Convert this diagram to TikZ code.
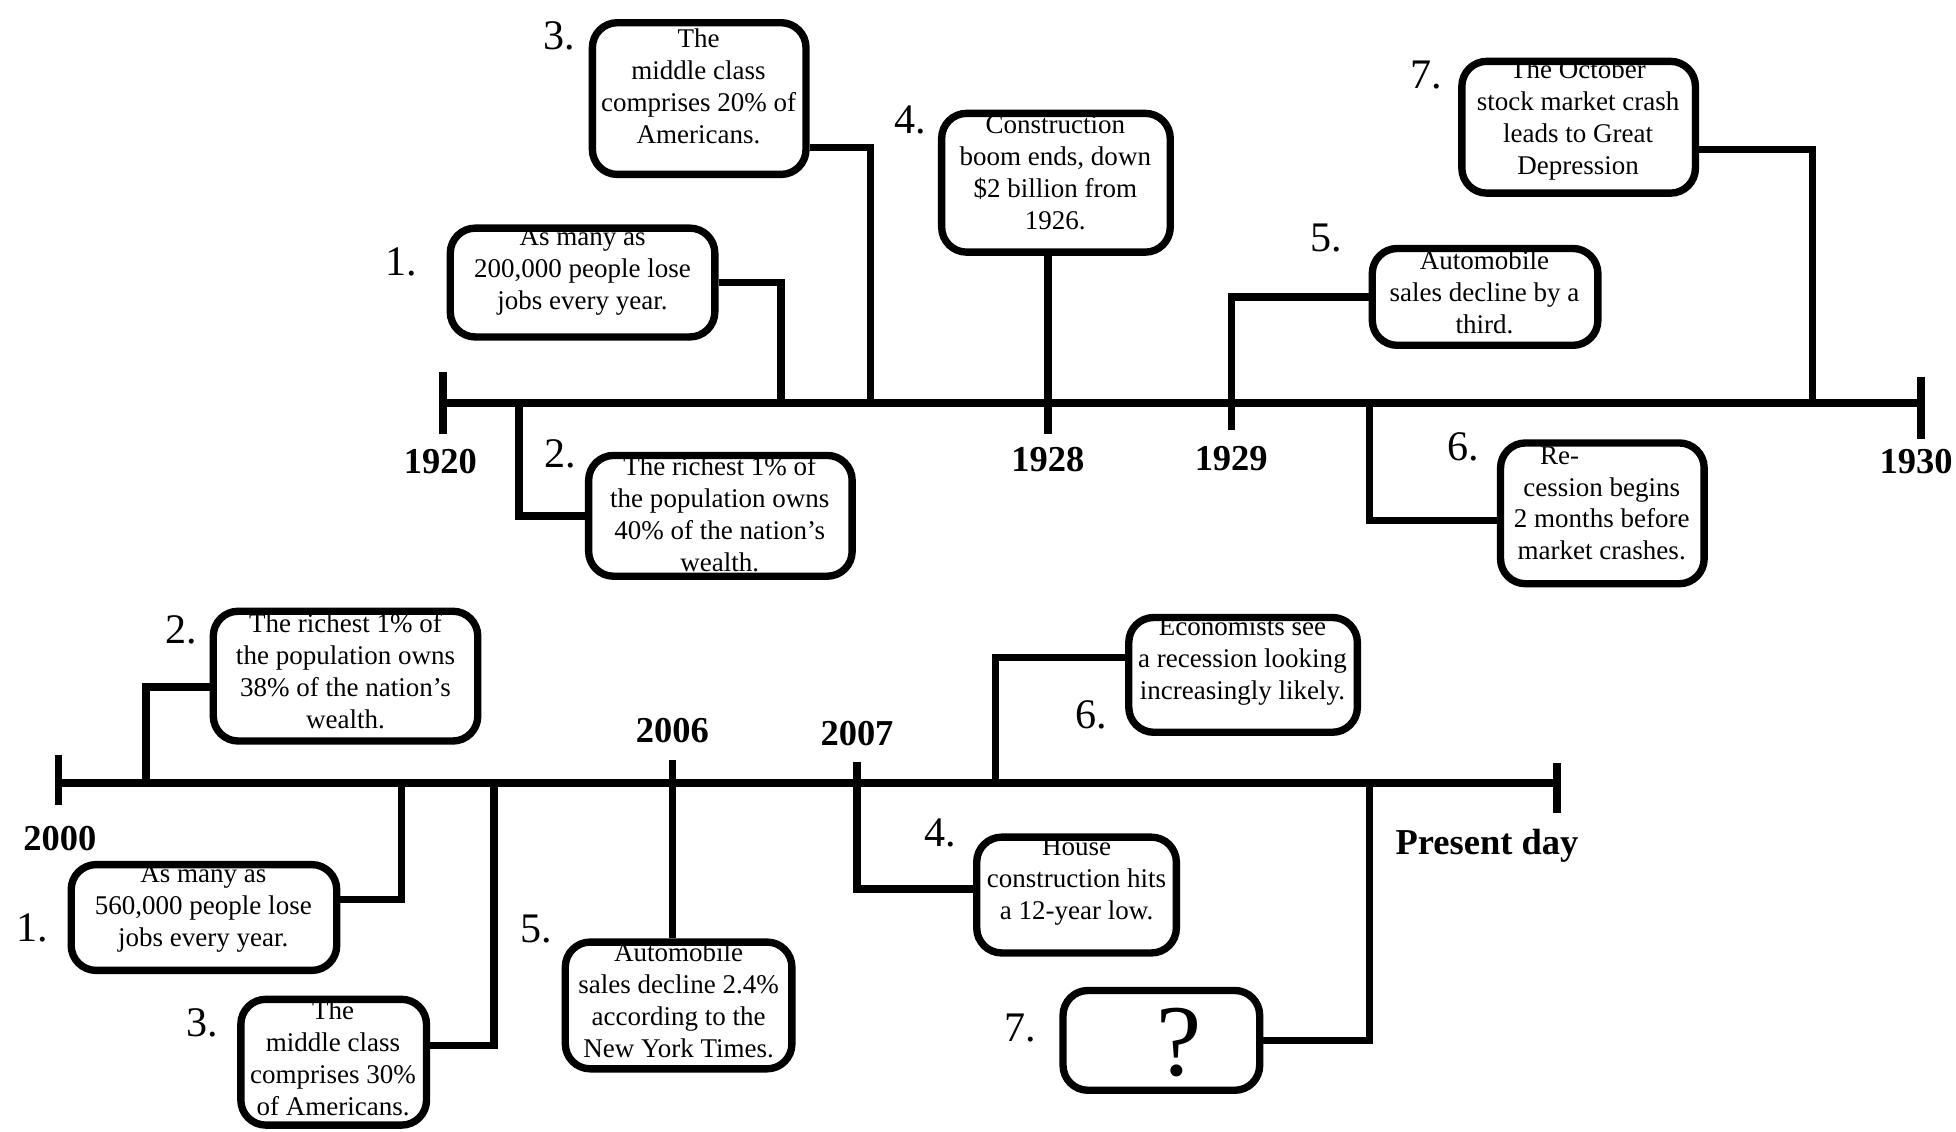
\documentclass[tikz,border=0pt]{standalone}
\usepackage{fontspec}
\setmainfont{Liberation Serif}
\usetikzlibrary{positioning}

\begin{document}
\begin{tikzpicture}[x=0.0125cm, y=-0.0125cm]
    % Define styles
    \tikzstyle{event} = [rectangle, draw, line width=2.1pt, rounded corners=0.25cm, inner sep=0pt]
    \tikzstyle{eventtext} = [align=center, inner sep=0pt, font=\fontsize{7.7}{9.1}\selectfont]
    \tikzstyle{yearlabel} = [inner sep=0pt, font=\fontsize{10.4}{12}\selectfont\bfseries]
    \tikzstyle{number} = [inner sep=0pt, font=\fontsize{12}{14}\selectfont]
    \tikzstyle{timeline} = [draw, line width=2.3pt]
    \tikzstyle{yeartick} = [draw, line width=2.2pt]
    \tikzstyle{line} = [draw, line width=2.1pt]

    \useasboundingbox (0,0) rectangle (1568,907);

    % Top timeline (1920 - 1930)
    \coordinate (start1920) at (355,323);
    \coordinate (end1930) at (1540,323);
    \coordinate (tick1928) at (840,348);
    \coordinate (tick1929) at (987,345);
    \coordinate (e1) at (626,323);
    \coordinate (e2) at (416,323);
    \coordinate (e3) at (698,323);
    \coordinate (e6) at (1098,323);
    \coordinate (e7) at (1453,323);

    \node [yearlabel] (y1920) at (353,370) {1920};
    \node [yearlabel] (y1928) at (840,368) {1928};
    \node [yearlabel] (y1929) at (987,368) {1929};
    \node [yearlabel] (y1930) at (1536,370) {1930};

    \node [event, minimum width=2.65cm, minimum height=1.09cm] (t1) at (467,226.5) {};
    \node [eventtext] (t1text) at (467,217.5) {As many as\\200,000 people lose\\jobs every year.};
    \node [event, minimum width=2.64cm, minimum height=1.21cm] (t2) at (577.5,413.5) {};
    \node [eventtext] (t2text) at (577,412) {The richest 1\% of\\the population owns\\40\% of the nation’s\\wealth.};
    \node [event, minimum width=2.14cm, minimum height=1.52cm] (t3) at (560.5,79) {};
    \node [eventtext] (t3text) at (560,69) {The\\middle class\\comprises 20\% of\\Americans.};
    \node [event, minimum width=2.29cm, minimum height=1.39cm] (t4) at (846.5,146.5) {};
    \node [eventtext] (t4text) at (846,138.5) {Construction\\boom ends, down\\\$2 billion from\\1926.};
    \node [event, minimum width=2.26cm, minimum height=0.97cm] (t5) at (1190.5,238) {};
    \node [eventtext] (t5text) at (1190,234) {Automobile\\sales decline by a\\third.};
    \node [event, minimum width=2.04cm, minimum height=1.41cm] (t6) at (1284.5,411.5) {};
    \node [eventtext] (t6text) at (1284,403.5) {Re-\hspace*{24pt}\\cession begins\\2 months before\\market crashes.};
    \node [event, minimum width=2.34cm, minimum height=1.32cm] (t7) at (1265.5,102) {};
    \node [eventtext] (t7text) at (1265,96.5) {The October\\stock market crash\\leads to Great\\Depression};

    \node [number] (n1top) at (322,210) {1.};
    \node [number] (n2top) at (449,364) {2.};
    \node [number] (n3top) at (448,29) {3.};
    \node [number] (n4top) at (730,96) {4.};
    \node [number] (n5top) at (1063,191) {5.};
    \node [number] (n6top) at (1173,358) {6.};
    \node [number] (n7top) at (1143,60) {7.};

    \path [timeline] (start1920) -- (end1930);
    \path [yeartick] (start1920) ++(0,-25) -- ++(0,50);
    \path [yeartick] (end1930) ++(0,-21) -- ++(0,50);
    \path [line] (t1.east) -| (e1);
    \path [line] (e2) |- (t2.west);
    \path [line] ([yshift=-0.49cm]t3.east) -| (e3);
    \path [line] (t4.south -| tick1928) -- (tick1928);
    \path [line] (t5.west) -| (tick1929);
    \path [line] (e6) |- ([yshift=-0.07cm]t6.west);
    \path [line] ([yshift=-0.225cm]t7.east) -| (e7);

    % Bottom timeline (2000 - present day)
    \coordinate (start2000) at (47,628);
    \coordinate (endPresent) at (1248,628);
    \coordinate (tick2006) at (539,609);
    \coordinate (tick2007) at (687,611);
    \coordinate (f1) at (322,628);
    \coordinate (f2) at (117,628);
    \coordinate (f3) at (396,628);
    \coordinate (f6) at (798,628);
    \coordinate (f7) at (1098,628);

    \node [yearlabel] (y2000) at (48,672) {2000};
    \node [yearlabel] (y2006) at (539,586) {2006};
    \node [yearlabel] (y2007) at (687,588) {2007};
    \node [yearlabel] (ypresent) at (1192,678) {Present day};

    \node [event, minimum width=2.66cm, minimum height=1.06cm] (b1) at (163.5,735.5) {};
    \node [eventtext] (b1text) at (163,728.5) {As many as\\560,000 people lose\\jobs every year.};
    \node [event, minimum width=2.65cm, minimum height=1.30cm] (b2) at (277,542) {};
    \node [eventtext] (b2text) at (277,538) {The richest 1\% of\\the population owns\\38\% of the nation’s\\wealth.};
    \node [event, minimum width=1.86cm, minimum height=1.26cm] (b3) at (267.5,851.5) {};
    \node [eventtext] (b3text) at (267,848.5) {The\\middle class\\comprises 30\%\\of Americans.};
    \node [event, minimum width=2.00cm, minimum height=1.16cm] (b4) at (863,717.5) {};
    \node [eventtext] (b4text) at (863,706.5) {House\\construction hits\\a 12-year low.};
    \node [event, minimum width=2.27cm, minimum height=1.27cm] (b5) at (544,806) {};
    \node [eventtext] (b5text) at (544,802) {Automobile\\sales decline 2.4\%\\according to the\\New York Times.};
    \node [event, minimum width=2.29cm, minimum height=1.15cm] (b6) at (996.5,541) {};
    \node [eventtext] (b6text) at (996,530.5) {Economists see\\a recession looking\\increasingly likely.};
    \node [event, minimum width=1.97cm, minimum height=1.00cm] (b7) at (931,834) {};
    \node [inner sep=0pt, font=\fontsize{29}{32}\selectfont] (b7text) at (945,836) {?};

    \node [number] (n1bot) at (26,744) {1.};
    \node [number] (n2bot) at (145,505) {2.};
    \node [number] (n3bot) at (162,820) {3.};
    \node [number] (n4bot) at (754,668) {4.};
    \node [number] (n5bot) at (430,745) {5.};
    \node [number] (n6bot) at (875,573) {6.};
    \node [number] (n7bot) at (818,824) {7.};

    \path [timeline] (start2000) -- (endPresent);
    \path [yeartick] (start2000) ++(0,-23) -- ++(0,40);
    \path [yeartick] (endPresent) ++(0,-16) -- ++(0,40);
    \path [line] ([yshift=-0.11cm]b2.west) -| (f2);
    \path [line] ([yshift=0.18cm]b1.east) -| (f1);
    \path [line] ([yshift=0.17cm]b3.east) -| (f3);
    \path [line] (tick2006) -- (b5.north -| tick2006);
    \path [line] (tick2007) |- ([yshift=0.06cm]b4.west);
    \path [line] ([yshift=0.175cm]b6.west) -| (f6);
    \path [line] (b7.east) -| (f7);
\end{tikzpicture}
\end{document}
